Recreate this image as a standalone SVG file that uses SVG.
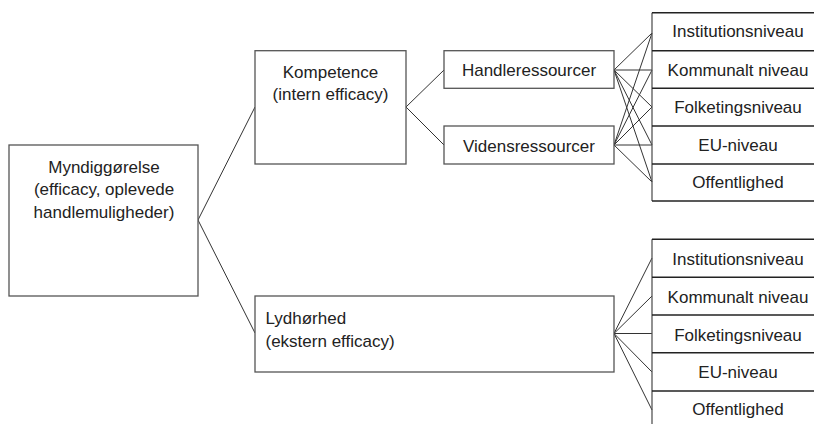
<svg xmlns="http://www.w3.org/2000/svg" width="814" height="424" viewBox="0 0 814 424">
<style>
  .box { fill: #fff; stroke: #555; stroke-width: 1.3; }
  .div { stroke: #222; stroke-width: 1.5; }
  .vl { stroke: #555; stroke-width: 1.3; }
  .con line { stroke: #333; stroke-width: 1; }
  text { font-family: "Liberation Sans", Arial, sans-serif; font-size: 17px; fill: #222; }
  .c { text-anchor: middle; }
</style>
<rect width="814" height="424" fill="#fff"/>
<g class="con">
  <line x1="198" y1="220" x2="255" y2="107"/>
  <line x1="198" y1="220" x2="255" y2="333"/>
  <line x1="406" y1="107" x2="444" y2="70"/>
  <line x1="406" y1="107" x2="444" y2="145"/>
  <line x1="614" y1="70" x2="652" y2="33"/>
  <line x1="614" y1="70" x2="652" y2="70"/>
  <line x1="614" y1="70" x2="652" y2="107"/>
  <line x1="614" y1="70" x2="652" y2="145"/>
  <line x1="614" y1="70" x2="652" y2="182"/>
  <line x1="614" y1="145" x2="652" y2="33"/>
  <line x1="614" y1="145" x2="652" y2="70"/>
  <line x1="614" y1="145" x2="652" y2="107"/>
  <line x1="614" y1="145" x2="652" y2="145"/>
  <line x1="614" y1="145" x2="652" y2="182"/>
  <line x1="614" y1="333.5" x2="652" y2="258"/>
  <line x1="614" y1="333.5" x2="652" y2="296"/>
  <line x1="614" y1="333.5" x2="652" y2="333.5"/>
  <line x1="614" y1="333.5" x2="652" y2="372"/>
  <line x1="614" y1="333.5" x2="652" y2="410"/>
</g>
<g id="myndiggorelse">
  <rect class="box" x="9" y="145" width="189" height="151"/>
  <text class="c" x="104" y="172.5">Myndiggørelse</text>
  <text class="c" x="104" y="195">(efficacy, oplevede</text>
  <text class="c" x="104" y="217.5">handlemuligheder)</text>
</g>
<g id="kompetence">
  <rect class="box" x="255" y="50.7" width="151" height="113.3"/>
  <text class="c" x="330.5" y="78">Kompetence</text>
  <text class="c" x="330.5" y="100">(intern efficacy)</text>
</g>
<g id="lydhorhed">
  <rect class="box" x="255" y="296" width="359" height="76"/>
  <text x="265.5" y="324">Lydhørhed</text>
  <text x="265.5" y="346.5">(ekstern efficacy)</text>
</g>
<g id="handleressourcer">
  <rect class="box" x="444" y="50.7" width="170" height="37.6"/>
  <text class="c" x="529" y="76">Handleressourcer</text>
</g>
<g id="vidensressourcer">
  <rect class="box" x="444" y="126" width="170" height="38"/>
  <text class="c" x="529" y="151.5">Vidensressourcer</text>
</g>
<g id="niveauer-top">
  <line class="vl" x1="652" y1="12.7" x2="652" y2="201"/>
  <line class="div" x1="652" y1="12.7" x2="814" y2="12.7"/>
  <line class="div" x1="652" y1="50.7" x2="814" y2="50.7"/>
  <line class="div" x1="652" y1="88.3" x2="814" y2="88.3"/>
  <line class="div" x1="652" y1="126" x2="814" y2="126"/>
  <line class="div" x1="652" y1="164" x2="814" y2="164"/>
  <line class="div" x1="652" y1="201" x2="814" y2="201"/>
  <text class="c" x="738" y="37.3">Institutionsniveau</text>
  <text class="c" x="738" y="76">Kommunalt niveau</text>
  <text class="c" x="738" y="113.3">Folketingsniveau</text>
  <text class="c" x="738" y="150.7">EU-niveau</text>
  <text class="c" x="738" y="188.3">Offentlighed</text>
</g>
<g id="niveauer-bottom">
  <line class="vl" x1="652" y1="239.3" x2="652" y2="424"/>
  <line class="div" x1="652" y1="239.3" x2="814" y2="239.3"/>
  <line class="div" x1="652" y1="277.3" x2="814" y2="277.3"/>
  <line class="div" x1="652" y1="315" x2="814" y2="315"/>
  <line class="div" x1="652" y1="352.7" x2="814" y2="352.7"/>
  <line class="div" x1="652" y1="391" x2="814" y2="391"/>
  <text class="c" x="738" y="265">Institutionsniveau</text>
  <text class="c" x="738" y="303.3">Kommunalt niveau</text>
  <text class="c" x="738" y="340.7">Folketingsniveau</text>
  <text class="c" x="738" y="378.3">EU-niveau</text>
  <text class="c" x="738" y="415">Offentlighed</text>
</g>
</svg>
